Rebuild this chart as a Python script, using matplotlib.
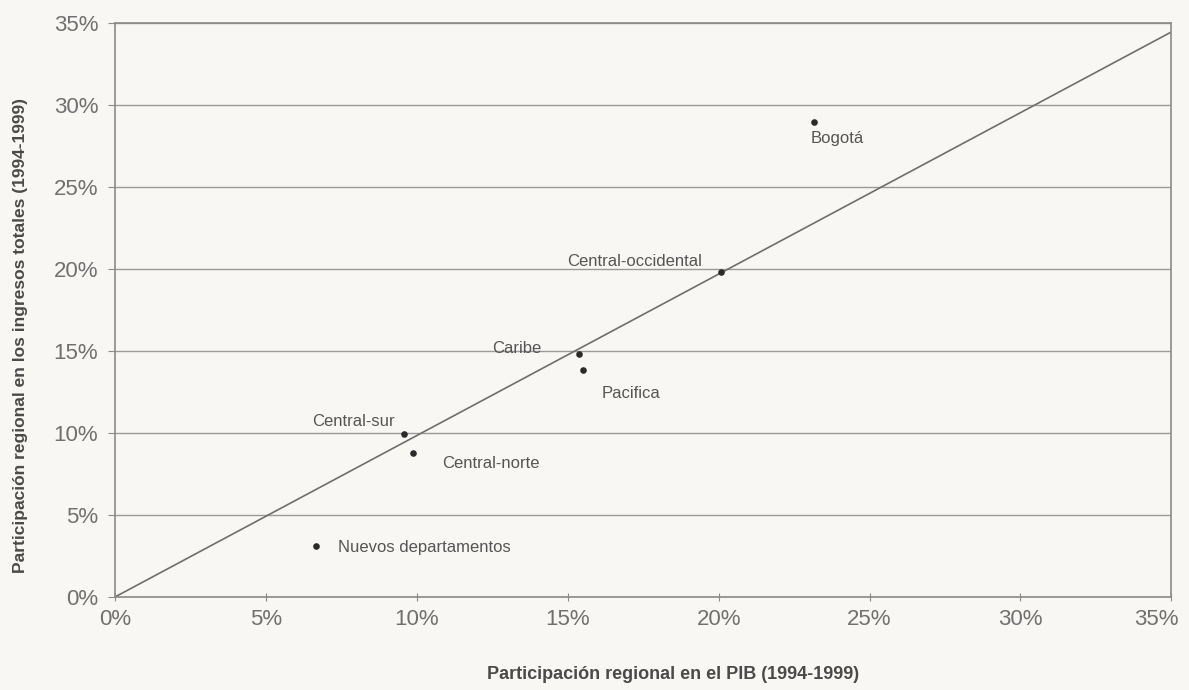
import matplotlib
matplotlib.use("Agg")
import matplotlib.pyplot as plt
from matplotlib.ticker import FuncFormatter, MultipleLocator
from matplotlib.transforms import ScaledTranslation, blended_transform_factory

# Regional shares (%): GDP vs. total revenues, 1994-1999
regions = ["Bogotá", "Central-occidental", "Caribe", "Pacifica",
           "Central-sur", "Central-norte", "Nuevos departamentos"]
pib_share = [23.15, 20.09, 15.36, 15.52, 9.58, 9.87, 6.66]
ingresos_share = [28.98, 19.80, 14.82, 13.84, 9.96, 8.80, 3.11]

# Reference line
ref_x = [0.0, 35.0]
ref_y = [0.0, 34.45]

AXIS_MAX = 35

# Label offsets (points) and alignment per region
label_style = {
    "Bogotá": ((-2, -12), "left"),
    "Central-occidental": ((-14, 8), "right"),
    "Caribe": ((-27, 4), "right"),
    "Pacifica": ((13, -17), "left"),
    "Central-sur": ((-7, 9), "right"),
    "Central-norte": ((21, -8), "left"),
    "Nuevos departamentos": ((16, -1), "left"),
}

FONT = ["Liberation Sans Narrow", "Liberation Sans", "DejaVu Sans"]
plt.rcParams["font.family"] = FONT
BG = "#f8f7f3"
TXT = "#707070"
LINE = "#8a8a8a"

fig = plt.figure(figsize=(11.89, 6.90), dpi=100, facecolor=BG)
ax = fig.add_axes([0.0967, 0.1348, 0.8885, 0.832], facecolor=BG)

ax.set_xlim(0, AXIS_MAX)
ax.set_ylim(0, AXIS_MAX)
ax.xaxis.set_major_locator(MultipleLocator(5))
ax.yaxis.set_major_locator(MultipleLocator(5))
ax.yaxis.set_major_formatter(FuncFormatter(lambda v, _: f"{v:.0f}%"))
# The last x label is placed separately so it stays inside the figure
ax.xaxis.set_major_formatter(
    FuncFormatter(lambda v, _: "" if v >= AXIS_MAX - 1e-9 else f"{v:.0f}%"))

ax.grid(axis="y", color="#9a9a9a", linewidth=1.0)
ax.set_axisbelow(True)
for side in ["left", "bottom", "right", "top"]:
    ax.spines[side].set_color(LINE)
    ax.spines[side].set_linewidth(1.2)

ax.tick_params(axis="x", direction="inout", length=6, color=LINE,
               labelsize=16, labelcolor=TXT, pad=6)
ax.tick_params(axis="y", direction="out", length=5, color=LINE,
               labelsize=16, labelcolor=TXT, pad=7)

trans = blended_transform_factory(ax.transData, ax.transAxes) + \
    ScaledTranslation(7 / 100, -9 / 72, fig.dpi_scale_trans)
ax.text(AXIS_MAX, 0, f"{AXIS_MAX}%", transform=trans, ha="right", va="top",
        fontsize=16, color=TXT, clip_on=False)

ax.plot(ref_x, ref_y, color="#6e6e6e", linewidth=1.2, zorder=2)
ax.scatter(pib_share, ingresos_share, s=14, color="#2a2a2a", zorder=3)

for name, x, y in zip(regions, pib_share, ingresos_share):
    (dx, dy), ha = label_style[name]
    ax.annotate(name, (x, y), xytext=(dx, dy), textcoords="offset points",
                ha=ha, va="center", fontsize=12, color="#555555")

fig.text(0.566, 0.022, "Participación regional en el PIB (1994-1999)",
         ha="center", va="center", fontsize=13, fontweight="bold", color="#4a4a4a")
fig.text(0.017, 0.514, "Participación regional en los ingresos totales (1994-1999)",
         ha="center", va="center", rotation=90, fontsize=12.5,
         fontweight="bold", color="#4a4a4a")

fig.savefig("out.png", dpi=100, facecolor=BG)
